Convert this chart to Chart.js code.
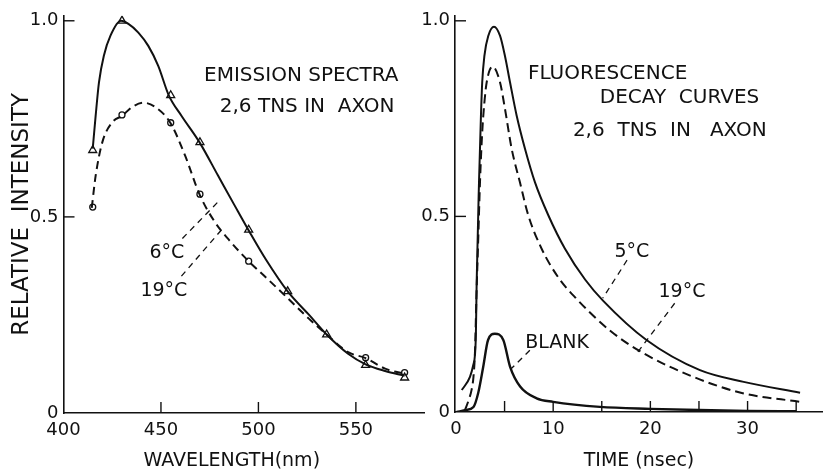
<!DOCTYPE html>
<html><head><meta charset="utf-8">
<script src="https://cdn.jsdelivr.net/npm/chart.js@4.4.1/dist/chart.umd.min.js"></script>
<style>
html,body{margin:0;padding:0;background:#fff;}
#wrap{position:relative;width:823px;height:472px;overflow:hidden;background:#fff;}
#c1{position:absolute;left:0;top:0;}
#c2{position:absolute;left:413px;top:0;}
</style></head><body>
<div id="wrap"><canvas id="c1" width="430" height="472"></canvas><canvas id="c2" width="410" height="472"></canvas></div>
<script>
// ---- Emission spectra (left panel) ----
const spectraWavelength6 = [415,416.5,418.2,420.7,424.1,429.5,433.3,438.4,443.5,448.6,454,460.5,469.8,479.2,487.7,495.4,504,515,526,535,546,555,565,575];
const spectraIntensity6  = [0.674,0.758,0.843,0.911,0.962,1.0,0.992,0.97,0.936,0.885,0.81,0.758,0.69,0.606,0.53,0.462,0.39,0.31,0.25,0.20,0.151,0.124,0.107,0.095];
const spectraWavelength19 = [414.5,416.5,419.9,425,430.1,435.2,441.1,447.1,454.8,462.4,470,477.5,486,495,504,515.6,526,535,546,555,565,575];
const spectraIntensity19  = [0.523,0.605,0.69,0.741,0.758,0.78,0.791,0.78,0.74,0.656,0.555,0.488,0.435,0.387,0.345,0.29,0.24,0.20,0.155,0.14,0.113,0.10];
const markerWavelength6 = [415,430,455,470,495,515,535,555,575];
const markerIntensity6  = [0.67,1.0,0.81,0.69,0.467,0.31,0.20,0.122,0.09];
const markerWavelength19 = [415,430,455,470,495,555,575];
const markerIntensity19  = [0.525,0.76,0.74,0.558,0.387,0.141,0.103];
const wavelengthTicks = [400,450,500,550];
const intensityTicks = [0,0.5,1.0];
const intensityTickLabels = ['0','0.5','1.0'];

// ---- Fluorescence decay (right panel) ----
const decayTime5 = [0.6,1.44,1.78,1.95,2.05,2.13,2.37,2.57,2.7,2.92,3.33,3.91,4.53,5.04,5.56,6.24,7.1,8.13,9.5,11.2,13.3,15.15,19.6,25.1,29.6,35.4];
const decayIntensity5 = [0.056,0.09,0.12,0.145,0.2,0.332,0.587,0.758,0.843,0.91,0.962,0.985,0.962,0.91,0.843,0.758,0.673,0.587,0.503,0.418,0.338,0.284,0.184,0.107,0.077,0.049];
const decayTime19 = [0.93,1.3,1.6,1.8,1.95,2.1,2.3,2.47,2.7,2.92,3.16,3.77,4.53,5.04,5.73,6.58,7.44,8.8,10.5,12.3,15.8,19.3,24.4,29.5,35.4];
const decayIntensity19 = [0.005,0.03,0.056,0.09,0.15,0.29,0.45,0.587,0.715,0.79,0.843,0.883,0.843,0.775,0.673,0.587,0.503,0.418,0.345,0.292,0.209,0.15,0.09,0.048,0.026];
const blankTime = [0.07,1.0,1.8,2.3,2.8,3.3,4.0,4.87,5.56,6.6,8.3,10,14.8,20,25,30,35];
const blankIntensity = [0,0.005,0.013,0.05,0.115,0.184,0.20,0.184,0.116,0.065,0.035,0.026,0.013,0.008,0.005,0.003,0.002];
const timeTicks = [0,5,10,15,20,25,30,35];
const timeTickLabels = ['0','','10','','20','','30',''];

const INK = '#111';
const FONT = 'DejaVu Sans';

function pts(xs, ys){ return xs.map((x,i)=>({x:x, y:ys[i]})); }

const notesPlugin = {
  id: 'notes',
  afterDatasetsDraw(chart, args, opts){
    const ctx = chart.ctx, xs = chart.scales.x, ys = chart.scales.y;
    ctx.save();
    ctx.strokeStyle = INK; ctx.lineWidth = 1.3; ctx.setLineDash([6,5]);
    (opts.leaders||[]).forEach(l=>{
      ctx.beginPath();
      ctx.moveTo(xs.getPixelForValue(l[0]), ys.getPixelForValue(l[1]));
      ctx.lineTo(xs.getPixelForValue(l[2]), ys.getPixelForValue(l[3]));
      ctx.stroke();
    });
    ctx.setLineDash([]);
    ctx.fillStyle = INK; ctx.textAlign = 'center'; ctx.textBaseline = 'middle';
    (opts.texts||[]).forEach(t=>{
      ctx.font = t.size + 'px "' + FONT + '"';
      ctx.fillText(t.text, xs.getPixelForValue(t.x), ys.getPixelForValue(t.y));
    });
    ctx.restore();
  }
};

const inTicksPlugin = {
  id: 'inTicks',
  afterDraw(chart, args, opts){
    const ctx = chart.ctx, xs = chart.scales.x, ys = chart.scales.y;
    ctx.save();
    ctx.strokeStyle = INK; ctx.lineWidth = 1.4;
    (opts.x||[]).forEach(v=>{
      const px = xs.getPixelForValue(v);
      ctx.beginPath(); ctx.moveTo(px, ys.bottom); ctx.lineTo(px, ys.bottom - opts.len); ctx.stroke();
    });
    (opts.y||[]).forEach(v=>{
      const py = ys.getPixelForValue(v);
      ctx.beginPath(); ctx.moveTo(xs.left, py); ctx.lineTo(xs.left + opts.len, py); ctx.stroke();
    });
    ctx.restore();
  }
};

function yScale(width, pad, maxV){
  return {
    type:'linear', min:0, max:maxV,
    afterBuildTicks: s => { s.ticks = intensityTicks.map(v=>({value:v})); },
    afterFit: s => { s.width = width; },
    grid:{display:false, drawTicks:false},
    border:{display:true, color:INK, width:1.6},
    ticks:{color:INK, padding:pad, font:{family:FONT, size:18}, autoSkip:false,
      callback:(v)=>{ const i = intensityTicks.indexOf(v); return i>=0 ? intensityTickLabels[i] : ''; }}
  };
}

// Left chart
new Chart(document.getElementById('c1'), {
  type:'scatter',
  data:{datasets:[
    {label:'6°C', data:pts(spectraWavelength6, spectraIntensity6), showLine:true, borderColor:INK, borderWidth:2, pointRadius:0, cubicInterpolationMode:'monotone'},
    {label:'19°C', data:pts(spectraWavelength19, spectraIntensity19), showLine:true, borderColor:INK, borderWidth:2, borderDash:[8,5], pointRadius:0, cubicInterpolationMode:'monotone'},
    {label:'6°C points', data:pts(markerWavelength6, markerIntensity6), showLine:false, pointStyle:'triangle', pointRadius:4.6, pointBorderWidth:1.3, pointBorderColor:INK, pointBackgroundColor:'#fff'},
    {label:'19°C points', data:pts(markerWavelength19, markerIntensity19), showLine:false, pointStyle:'circle', pointRadius:3, pointBorderWidth:1.3, pointBorderColor:INK, pointBackgroundColor:'#fff'}
  ]},
  options:{
    responsive:false, animation:false, events:[],
    layout:{padding:{top:15, right:4, bottom:0, left:0}},
    plugins:{legend:{display:false}, tooltip:{enabled:false},
      notes:{
        texts:[
          {text:'EMISSION SPECTRA', x:522, y:0.86, size:20},
          {text:'2,6 TNS IN  AXON', x:525, y:0.78, size:20},
          {text:'6°C', x:453, y:0.407, size:19},
          {text:'19°C', x:451.5, y:0.31, size:19}
        ],
        leaders:[[461,0.445,480,0.542],[460.5,0.349,480.9,0.466]]
      },
      inTicks:{x:[450,500,550], y:[0.5,1.0], len:11}
    },
    scales:{
      x:{type:'linear', min:400, max:585,
        afterBuildTicks: s => { s.ticks = wavelengthTicks.map(v=>({value:v})); },
        afterFit: s => { s.height = 59; },
        grid:{display:false, drawTicks:false},
        border:{display:true, color:INK, width:1.6},
        ticks:{color:INK, padding:7, maxRotation:0, autoSkip:false, font:{family:FONT, size:18}, callback:v=>String(v)},
        title:{display:true, text:'WAVELENGTH(nm)\u00a0\u00a0\u00a0\u00a0', color:INK, font:{family:FONT, size:19}, padding:{top:0, bottom:0}}
      },
      y:Object.assign(yScale(63.5, 5, 1.0127), {
        title:{display:true, text:'RELATIVE  INTENSITY', color:INK, font:{family:FONT, size:23}, padding:{top:8, bottom:0}}
      })
    }
  },
  plugins:[notesPlugin, inTicksPlugin]
});

// Right chart
new Chart(document.getElementById('c2'), {
  type:'scatter',
  data:{datasets:[
    {label:'5°C', data:pts(decayTime5, decayIntensity5), showLine:true, borderColor:INK, borderWidth:2, pointRadius:0, cubicInterpolationMode:'monotone'},
    {label:'19°C', data:pts(decayTime19, decayIntensity19), showLine:true, borderColor:INK, borderWidth:2, borderDash:[9,5], pointRadius:0, cubicInterpolationMode:'monotone'},
    {label:'BLANK', data:pts(blankTime, blankIntensity), showLine:true, borderColor:INK, borderWidth:2.4, pointRadius:0, cubicInterpolationMode:'monotone'}
  ]},
  options:{
    responsive:false, animation:false, events:[],
    layout:{padding:{top:15, right:0, bottom:0, left:0}},
    plugins:{legend:{display:false}, tooltip:{enabled:false},
      notes:{
        texts:[
          {text:'FLUORESCENCE', x:15.6, y:0.865, size:20},
          {text:'DECAY  CURVES', x:23.0, y:0.804, size:20},
          {text:'2,6  TNS  IN   AXON', x:22.0, y:0.719, size:20},
          {text:'5°C', x:18.1, y:0.408, size:19},
          {text:'19°C', x:23.25, y:0.306, size:19},
          {text:'BLANK', x:10.4, y:0.176, size:19}
        ],
        leaders:[[17.6,0.388,15.1,0.291],[22.5,0.278,18.7,0.153],[7.6,0.158,5.7,0.111]]
      },
      inTicks:{x:[5,10,15,20,25,30,35], y:[0.5,1.0], len:11}
    },
    scales:{
      x:{type:'linear', min:-0.1, max:37.76,
        afterBuildTicks: s => { s.ticks = timeTicks.map(v=>({value:v})); },
        afterFit: s => { s.height = 60; },
        grid:{display:false, drawTicks:false},
        border:{display:true, color:INK, width:1.6},
        ticks:{color:INK, padding:7, maxRotation:0, autoSkip:false, font:{family:FONT, size:18},
          callback:(v)=>{ const i = timeTicks.indexOf(v); return i>=0 ? timeTickLabels[i] : ''; }},
        title:{display:true, text:'TIME (nsec)', color:INK, font:{family:FONT, size:19}, padding:{top:0, bottom:0}}
      },
      y:yScale(42, 5, 1.0128)
    }
  },
  plugins:[notesPlugin, inTicksPlugin]
});
</script>
</body></html>
